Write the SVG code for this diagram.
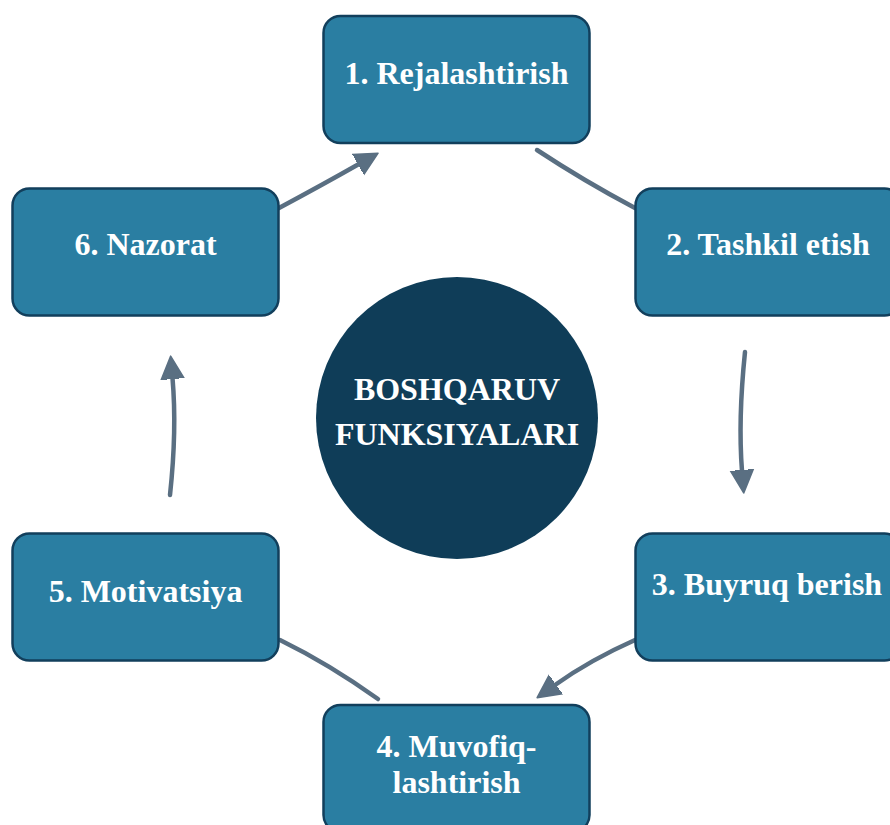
<svg xmlns="http://www.w3.org/2000/svg" width="890" height="825" viewBox="0 0 890 825">
<defs>
<style>
.box{fill:#2a7ea2;stroke:#123f5c;stroke-width:2.5}
.t{fill:#ffffff;font-family:"Liberation Serif","Times New Roman",serif;font-weight:bold;font-size:32px;text-anchor:middle}
.c{fill:none;stroke:#5a6f82;stroke-width:4.5;stroke-linecap:round}
</style>
<marker id="ah" markerUnits="userSpaceOnUse" markerWidth="24" markerHeight="26" refX="1" refY="11.5" orient="auto" viewBox="0 0 23 23">
<path d="M0,0.5 L22,11.5 L0,22.5 Z" fill="#5a6f82" stroke="#5a6f82" stroke-width="1.5" stroke-linejoin="round"/>
</marker>
</defs>
<rect width="890" height="825" fill="#ffffff"/>
<g id="connectors">
<path class="c" d="M279,208 Q322,185 359,164" marker-end="url(#ah)"/>
<path class="c" d="M537,150 Q584,181 635,208"/>
<path class="c" d="M745,352 Q738,420 742,471" marker-end="url(#ah)"/>
<path class="c" d="M635,640 Q590,660 555,685" marker-end="url(#ah)"/>
<path class="c" d="M280,640 Q329,664 378,699"/>
<path class="c" d="M170,495 Q177,430 172.5,378" marker-end="url(#ah)"/>
</g>
<g id="center">
<circle cx="457" cy="418" r="141" fill="#0f3d58"/>
<text class="t" x="457" y="400">BOSHQARUV</text>
<text class="t" x="457" y="445">FUNKSIYALARI</text>
</g>
<g id="n1">
<rect class="box" x="323.5" y="16" width="266" height="127" rx="17"/>
<text class="t" x="456.5" y="84">1. Rejalashtirish</text>
</g>
<g id="n2">
<rect class="box" x="635.5" y="188.5" width="266" height="127" rx="17"/>
<text class="t" x="768" y="255">2. Tashkil etish</text>
</g>
<g id="n3">
<rect class="box" x="635.5" y="533.5" width="266" height="127" rx="17"/>
<text class="t" x="767" y="595">3. Buyruq berish</text>
</g>
<g id="n4">
<rect class="box" x="323.5" y="705" width="266" height="127" rx="17"/>
<text class="t" x="456.5" y="757">4. Muvofiq-</text>
<text class="t" x="456.5" y="793">lashtirish</text>
</g>
<g id="n5">
<rect class="box" x="12.5" y="533.5" width="266" height="127" rx="17"/>
<text class="t" x="145.5" y="602">5. Motivatsiya</text>
</g>
<g id="n6">
<rect class="box" x="12.5" y="188.5" width="266" height="127" rx="17"/>
<text class="t" x="145.5" y="255">6. Nazorat</text>
</g>
</svg>
